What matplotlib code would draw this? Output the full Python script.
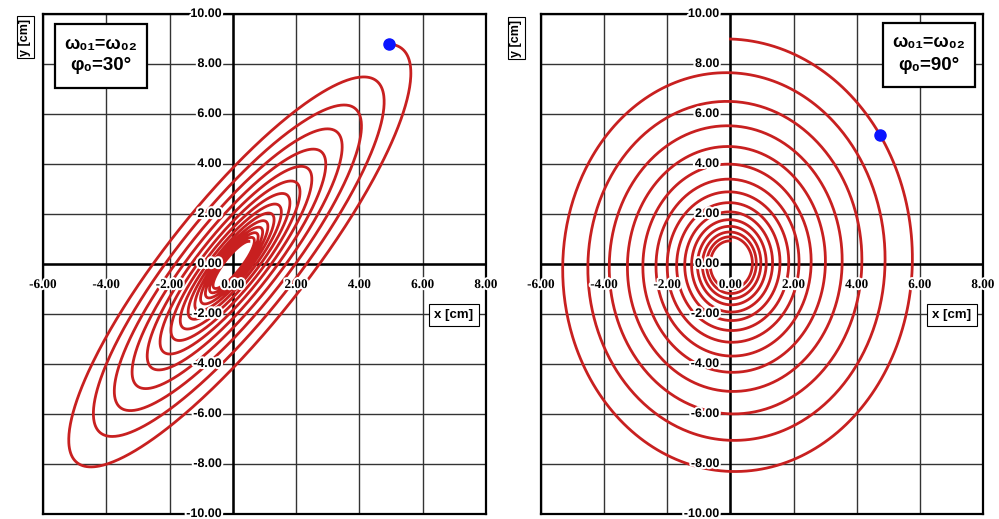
import numpy as np
import matplotlib.pyplot as plt
import matplotlib.patheffects as pe
from matplotlib.patches import Rectangle

# Damped 2D oscillation (same frequency in x and y), one panel per phase shift
PHASES_DEG = [30, 90]          # phase shift between x and y
AMP_X = [5.7, 6.0]             # initial x amplitude [cm]
AMP_Y = [8.8, 9.0]             # initial y amplitude [cm]
DECAY_PER_TURN = [0.85, 0.85]  # amplitude ratio after one full turn
TURNS = [14, 14]               # number of revolutions drawn
DOT_DEG = [0, 54]              # position of the marked point (phase angle)

X_TICKS = [-6, -4, -2, 0, 2, 4, 6, 8]
Y_TICKS = [-10, -8, -6, -4, -2, 0, 2, 4, 6, 8, 10]

W, H = 999, 519
RED = "#c82020"
HALO = [pe.withStroke(linewidth=3, foreground="white")]


def px(x, y):
    """Pixel position (from top-left) -> figure fraction."""
    return x / W, 1 - y / H


def trajectory(i, theta):
    lam = -np.log(DECAY_PER_TURN[i]) / (2 * np.pi)
    env = np.exp(-lam * theta)
    phi = np.radians(PHASES_DEG[i])
    x = AMP_X[i] * env * np.cos(theta - phi)
    y = AMP_Y[i] * env * np.cos(theta)
    return x, y


fig = plt.figure(figsize=(W / 100, H / 100), dpi=100)

panels = [(43, 486), (541, 983)]
legend_boxes = [(55, 24), (883, 23)]
ylab_pos = [(25, 37), (516, 38)]
xlab_pos = [(454, 315), (952, 315)]

for i, (x0, x1) in enumerate(panels):
    l, b = px(x0, 514)
    r, t = px(x1, 14)
    ax = fig.add_axes([l, b, r - l, t - b])
    ax.set_xlim(-6, 8)
    ax.set_ylim(-10, 10)
    ax.set_xticks(X_TICKS)
    ax.set_yticks(Y_TICKS)
    ax.grid(True, color="#333333", linewidth=1.0)
    ax.tick_params(length=0, labelbottom=False, labelleft=False)
    for s in ax.spines.values():
        s.set_linewidth(1.6)
        s.set_color("black")
    ax.axhline(0, color="black", linewidth=1.8, zorder=2)
    ax.axvline(0, color="black", linewidth=1.8, zorder=2)

    theta = np.linspace(0, 2 * np.pi * TURNS[i], 6000)
    x, y = trajectory(i, theta)
    ax.plot(x, y, color=RED, linewidth=2.0, zorder=3)

    dx, dy = trajectory(i, np.radians(DOT_DEG[i]))
    ax.plot([dx], [dy], "o", color="#0a14ff", markersize=8, zorder=5)

    # tick labels sitting on the centred axes
    for v in X_TICKS:
        ax.annotate(f"{v:.2f}", (v, 0), xytext=(0, -21), textcoords="offset pixels",
                    ha="center", va="center", fontsize=9.5, fontweight="bold",
                    family="Liberation Serif", path_effects=HALO, zorder=6,
                    annotation_clip=False)
    for v in Y_TICKS:
        ax.annotate(f"{v:.2f}", (0, v), xytext=(-11, 0), textcoords="offset pixels",
                    ha="right", va="center", fontsize=9, fontweight="bold",
                    family="Liberation Sans", path_effects=HALO, zorder=6,
                    annotation_clip=False)

    # axis name boxes
    fx, fy = px(*ylab_pos[i])
    fig.text(fx, fy, "y [cm]", rotation=90, ha="center", va="center",
             fontsize=9, fontweight="bold", family="Liberation Sans",
             bbox=dict(boxstyle="square,pad=0.2", fc="white", ec="black", lw=0.8))
    fx, fy = px(*xlab_pos[i])
    fig.text(fx, fy, "x [cm]", ha="center", va="center",
             fontsize=9.5, fontweight="bold", family="Liberation Sans", zorder=10,
             bbox=dict(boxstyle="square,pad=0.4", fc="white", ec="black", lw=0.8))

    # frequency / phase box
    bx, by = legend_boxes[i]
    rl, rb = px(bx, by + 64)
    rr, rt = px(bx + 92, by)
    fig.add_artist(Rectangle((rl, rb), rr - rl, rt - rb, transform=fig.transFigure,
                             fc="white", ec="black", lw=1.6, zorder=9))
    cx, cy = px(bx + 46, by + 20)
    fig.text(cx, cy, "ω₀₁=ω₀₂", ha="center", va="center", fontsize=13,
             fontweight="bold", family=["Liberation Sans", "DejaVu Sans"], zorder=10)
    cx, cy = px(bx + 46, by + 42)
    fig.text(cx, cy, f"φ₀={PHASES_DEG[i]}°", ha="center", va="center", fontsize=13.5,
             fontweight="bold", family=["Liberation Sans", "DejaVu Sans"], zorder=10)

fig.savefig("out.png", dpi=100)
